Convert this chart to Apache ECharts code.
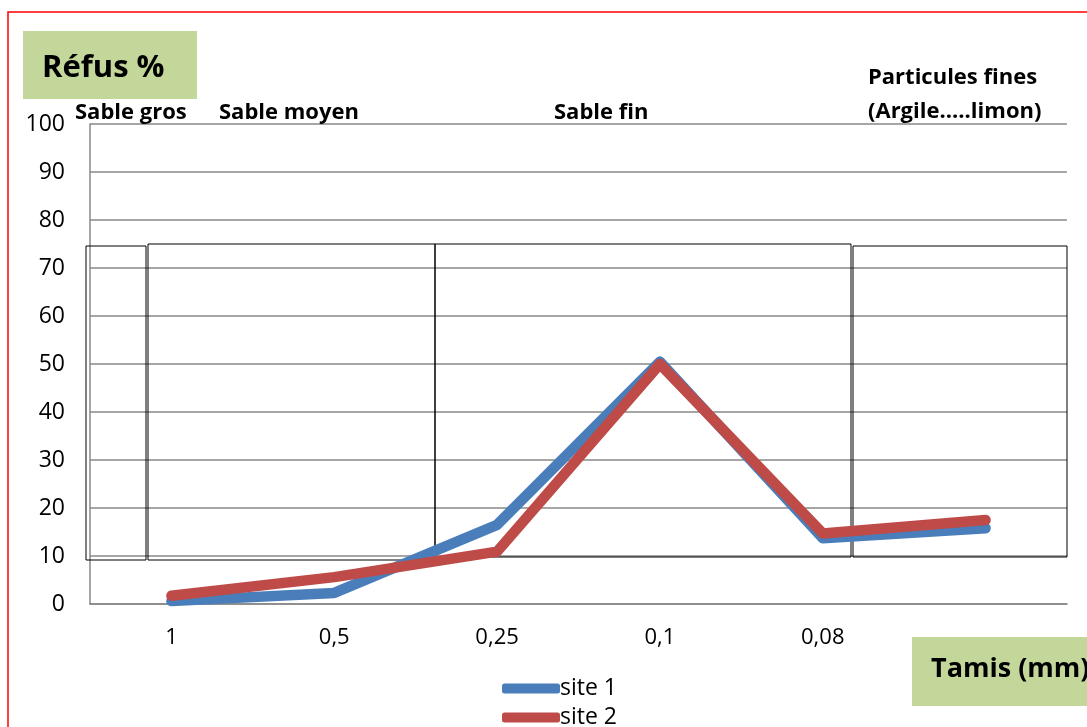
<!DOCTYPE html>
<html><head><meta charset="utf-8">
<script src="https://cdn.jsdelivr.net/npm/echarts@6/dist/echarts.min.js"></script>
<style>html,body{margin:0;padding:0;background:#fff}#c{width:1087px;height:727px}</style>
</head><body><div id="c"></div>
<script>
const categories = ['1', '0,5', '0,25', '0,1', '0,08', ''];
const site1 = [0.6, 2.3, 16.5, 50.5, 13.7, 15.8];
const site2 = [1.7, 5.6, 10.9, 50, 14.7, 17.5];
const yTicks = [0, 10, 20, 30, 40, 50, 60, 70, 80, 90, 100];
const zoneLabels = ['Sable gros', 'Sable moyen', 'Sable fin', 'Particules fines', '(Argile.....limon)'];

const FONT = '"Open Sans", Lato, sans-serif';
const chart = echarts.init(document.getElementById('c'));
const box = (x, y, w, h) => ({type:'rect', shape:{x, y, width:w, height:h}, style:{fill:'none', stroke:'#000', lineWidth:1}, z:1});
const legendCommon = {
  orient: 'vertical', left: 497, itemWidth: 58, itemHeight: 10, icon: 'roundRect', itemGap: 0,
  textStyle: {fontSize: 23, color: '#000', fontFamily: FONT, padding: [0,0,0,-5]}
};
chart.setOption({
  animation: false,
  textStyle: {fontFamily: FONT},
  grid: {left: 90, right: 20, top: 124, bottom: 123},
  xAxis: {
    type: 'category', data: categories, boundaryGap: true,
    axisLine: {lineStyle: {color: '#888', width: 1.5}},
    axisTick: {show: false},
    axisLabel: {color: '#000', fontSize: 22, margin: 23, fontFamily: FONT}
  },
  yAxis: {
    type: 'value', min: yTicks[0], max: yTicks[yTicks.length - 1], interval: 10,
    axisLine: {show: true, lineStyle: {color: '#888', width: 1.5}},
    axisTick: {show: false},
    axisLabel: {color: '#000', fontSize: 23, margin: 25, fontFamily: FONT},
    splitLine: {lineStyle: {color: '#888', width: 1.5}}
  },
  legend: [
    Object.assign({top: 672, data: ['site 1']}, legendCommon),
    Object.assign({top: 701, data: ['site 2']}, legendCommon)
  ],
  series: [
    {name: 'site 1', type: 'line', data: site1, showSymbol: false, symbol: 'none',
     color: '#4A7EBB', lineStyle: {width: 10.5, color: '#4A7EBB', cap: 'round', join: 'round'}, z: 3},
    {name: 'site 2', type: 'line', data: site2, showSymbol: false, symbol: 'none',
     color: '#BE4B48', lineStyle: {width: 10.5, color: '#BE4B48', cap: 'round', join: 'round'}, z: 4}
  ],
  graphic: [
    {type:'rect', shape:{x:8, y:12, width:1100, height:740}, style:{fill:'none', stroke:'#FF0000', lineWidth:1.5}, z:0},
    {type:'rect', shape:{x:23, y:31, width:174, height:68}, style:{fill:'#C4D79B'}, z:1},
    {type:'text', left: 42, top: 53, style:{text:'Réfus %', font:'bold 31px ' + FONT, fill:'#000'}, z:2},
    {type:'rect', shape:{x:912, y:637, width:180, height:69}, style:{fill:'#C4D79B'}, z:1},
    {type:'text', left: 931, top: 656, style:{text:'Tamis (mm)', font:'bold 27px ' + FONT, fill:'#000'}, z:2},
    {type:'text', left: 75, top: 102, style:{text: zoneLabels[0], font:'bold 22px ' + FONT, fill:'#000'}, z:2},
    {type:'text', left: 219, top: 102, style:{text: zoneLabels[1], font:'bold 22px ' + FONT, fill:'#000'}, z:2},
    {type:'text', left: 554, top: 102, style:{text: zoneLabels[2], font:'bold 22px ' + FONT, fill:'#000'}, z:2},
    {type:'text', left: 868, top: 67, style:{text: zoneLabels[3], font:'bold 22px ' + FONT, fill:'#000'}, z:2},
    {type:'text', left: 868, top: 101, style:{text: zoneLabels[4], font:'bold 22px ' + FONT, fill:'#000'}, z:2},
    box(86, 246, 60, 314),
    box(148, 244, 287, 316),
    box(435, 244, 416, 313),
    box(853, 246, 214, 311)
  ]
});
</script></body></html>
